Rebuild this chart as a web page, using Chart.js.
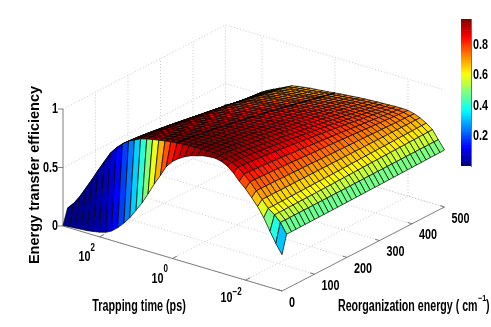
<!DOCTYPE html>
<html>
<head>
<meta charset="utf-8">
<script src="https://cdn.jsdelivr.net/npm/chart.js@4"></script>
<style>
  html, body { margin: 0; padding: 0; background: #fff; }
  canvas { position: absolute; left: 0; top: 0; }
</style>
</head>
<body>
<canvas id="surface" width="491" height="327"></canvas>
<canvas id="colorbar" width="491" height="327"></canvas>
<script>
// log10 of trapping time (ps), one value per column
const logTau = [3,2.83,2.67,2.5,2.33,2.17,2,1.83,1.67,1.5,1.33,1.17,1,.83,.67,.5,.33,.17,0,-.17,-.33,-.5,-.67,-.83,-1,-1.17,-1.33,-1.5,-1.67,-1.83,-2,-2.17,-2.33,-2.5,-2.67,-2.83,-3];
// reorganization energy (cm-1), one value per row
const lambdaValues = [0,14,29,43,57,71,86,100,114,129,143,157,171,186,200,214,229,243,257,271,286,300,314,329,343,357,371,386,400,414,429,443,457,471,486,500];
// energy transfer efficiency
const efficiency = [
[.005,.01,.013,.018,.022,.03,.04,.055,.08,.125,.18,.24,.32,.40,.49,.59,.68,.77,.83,.87,.90,.925,.94,.955,.962,.965,.955,.93,.885,.83,.78,.72,.66,.58,.48,.39,.31],
[.133,.19,.26,.35,.44,.53,.62,.71,.77,.82,.86,.885,.91,.925,.935,.945,.955,.962,.968,.972,.975,.977,.978,.978,.975,.968,.955,.94,.915,.87,.82,.76,.70,.64,.60,.55,.465],
[.136,.192,.262,.351,.44,.529,.618,.708,.767,.817,.856,.881,.906,.921,.931,.941,.951,.958,.964,.968,.971,.973,.974,.974,.971,.964,.952,.937,.912,.868,.819,.759,.70,.64,.60,.55,.465],
[.139,.195,.263,.351,.439,.528,.617,.705,.764,.813,.853,.878,.902,.917,.927,.937,.947,.954,.96,.964,.967,.969,.97,.97,.967,.961,.948,.934,.91,.866,.817,.759,.70,.641,.601,.55,.466],
[.142,.198,.265,.352,.439,.527,.615,.702,.76,.809,.848,.873,.897,.912,.922,.932,.941,.948,.954,.959,.962,.964,.965,.965,.962,.956,.944,.93,.906,.863,.816,.758,.70,.642,.602,.551,.466],
[.146,.201,.267,.353,.439,.526,.613,.699,.756,.805,.844,.869,.892,.907,.917,.926,.936,.943,.949,.953,.956,.959,.96,.96,.957,.951,.939,.925,.902,.861,.814,.757,.70,.642,.602,.551,.467],
[.151,.204,.27,.354,.438,.524,.61,.695,.751,.799,.838,.863,.886,.901,.91,.92,.929,.936,.942,.946,.95,.952,.953,.954,.951,.945,.934,.92,.898,.857,.812,.756,.70,.643,.603,.551,.467],
[.155,.208,.272,.355,.438,.523,.608,.691,.747,.794,.832,.857,.88,.894,.904,.913,.923,.929,.935,.94,.943,.945,.947,.947,.945,.939,.928,.915,.893,.854,.81,.755,.70,.644,.604,.551,.468],
[.16,.212,.275,.356,.437,.521,.605,.687,.742,.788,.826,.851,.874,.888,.897,.907,.916,.923,.929,.933,.936,.939,.94,.941,.939,.933,.922,.91,.889,.85,.807,.754,.70,.644,.604,.551,.468],
[.165,.216,.277,.357,.437,.52,.603,.683,.737,.783,.82,.845,.867,.881,.891,.9,.909,.916,.922,.926,.93,.932,.934,.934,.932,.927,.917,.905,.884,.847,.805,.753,.70,.645,.605,.552,.469],
[.169,.219,.28,.358,.436,.518,.6,.679,.732,.777,.814,.839,.861,.875,.884,.893,.902,.909,.915,.92,.923,.926,.927,.928,.926,.921,.911,.899,.88,.844,.803,.752,.70,.646,.606,.552,.469],
[.174,.223,.282,.359,.436,.517,.598,.675,.727,.772,.808,.833,.855,.868,.878,.887,.896,.902,.908,.913,.916,.919,.921,.922,.92,.915,.905,.894,.875,.84,.801,.751,.70,.647,.607,.552,.47],
[.18,.228,.285,.36,.435,.515,.595,.67,.721,.765,.801,.826,.847,.861,.87,.879,.887,.894,.9,.905,.908,.911,.913,.914,.912,.908,.899,.888,.87,.836,.798,.75,.70,.648,.608,.553,.47],
[.185,.232,.288,.361,.434,.513,.592,.665,.715,.758,.794,.819,.84,.853,.862,.871,.879,.886,.892,.897,.9,.903,.905,.906,.905,.901,.892,.882,.865,.832,.796,.749,.70,.648,.608,.553,.471],
[.191,.237,.291,.362,.434,.511,.589,.66,.71,.752,.787,.812,.832,.845,.854,.863,.871,.878,.884,.889,.892,.895,.897,.899,.897,.894,.885,.876,.859,.828,.793,.748,.70,.649,.609,.553,.472],
[.197,.241,.294,.364,.433,.51,.586,.656,.704,.745,.78,.805,.825,.838,.847,.855,.863,.87,.876,.881,.884,.887,.89,.891,.89,.886,.878,.869,.854,.824,.79,.746,.70,.65,.61,.553,.472],
[.202,.246,.297,.365,.433,.508,.583,.651,.698,.739,.773,.798,.817,.83,.839,.847,.855,.861,.868,.872,.876,.879,.882,.883,.882,.879,.872,.863,.848,.82,.788,.745,.70,.651,.611,.554,.473],
[.208,.25,.30,.366,.432,.506,.58,.646,.692,.732,.766,.791,.81,.822,.831,.839,.847,.853,.86,.864,.868,.871,.874,.876,.875,.872,.865,.857,.843,.816,.785,.744,.70,.652,.612,.554,.474],
[.213,.255,.303,.367,.431,.504,.577,.641,.686,.725,.759,.784,.802,.814,.823,.831,.839,.845,.851,.856,.86,.863,.866,.868,.867,.865,.858,.851,.838,.812,.783,.743,.70,.653,.613,.554,.474],
[.219,.259,.306,.368,.431,.502,.574,.636,.68,.719,.752,.777,.795,.807,.815,.823,.831,.837,.843,.848,.852,.856,.858,.86,.86,.858,.851,.844,.832,.808,.78,.742,.70,.654,.614,.555,.475],
[.225,.264,.309,.37,.43,.501,.571,.632,.674,.712,.745,.77,.787,.799,.808,.815,.823,.829,.835,.84,.844,.848,.851,.853,.852,.85,.845,.838,.827,.804,.777,.74,.70,.655,.615,.555,.476],
[.23,.268,.312,.371,.43,.499,.568,.627,.669,.706,.738,.763,.78,.791,.80,.807,.815,.821,.827,.832,.836,.84,.843,.845,.845,.843,.838,.832,.821,.80,.775,.739,.70,.656,.616,.555,.476],
[.236,.273,.315,.372,.429,.497,.565,.622,.663,.699,.731,.756,.772,.784,.792,.799,.806,.812,.818,.824,.828,.832,.835,.837,.837,.836,.831,.826,.816,.796,.772,.738,.70,.657,.617,.556,.477],
[.242,.278,.319,.373,.428,.495,.561,.616,.656,.691,.723,.748,.764,.775,.783,.79,.797,.803,.809,.815,.819,.823,.826,.828,.829,.828,.823,.818,.81,.791,.769,.737,.70,.658,.618,.556,.478],
[.249,.283,.322,.375,.428,.493,.558,.611,.649,.684,.714,.739,.755,.766,.774,.781,.788,.793,.80,.805,.809,.813,.817,.819,.82,.819,.815,.811,.803,.786,.766,.735,.70,.659,.619,.556,.479],
[.255,.288,.326,.376,.427,.491,.554,.605,.642,.676,.706,.731,.746,.757,.765,.771,.778,.784,.79,.796,.80,.804,.808,.81,.811,.811,.808,.804,.797,.782,.763,.734,.70,.66,.62,.557,.479],
[.262,.294,.329,.378,.426,.489,.551,.60,.635,.668,.698,.723,.737,.748,.756,.762,.769,.774,.781,.786,.791,.795,.799,.801,.802,.802,.80,.796,.791,.777,.76,.732,.70,.661,.621,.557,.48],
[.269,.299,.333,.379,.425,.486,.547,.594,.629,.66,.69,.715,.729,.739,.746,.753,.759,.765,.772,.777,.781,.786,.789,.792,.794,.794,.792,.789,.784,.772,.757,.731,.70,.662,.622,.557,.481],
[.275,.304,.336,.38,.425,.484,.544,.588,.622,.653,.681,.706,.72,.73,.737,.744,.75,.755,.762,.768,.772,.776,.78,.783,.785,.786,.784,.782,.778,.767,.754,.73,.70,.663,.623,.558,.482],
[.282,.309,.34,.382,.424,.482,.54,.583,.615,.645,.673,.698,.711,.721,.728,.734,.74,.746,.753,.758,.763,.767,.771,.774,.776,.777,.776,.775,.772,.763,.751,.728,.70,.664,.624,.558,.482],
[.288,.315,.343,.383,.423,.48,.537,.577,.608,.637,.665,.69,.702,.712,.719,.725,.731,.736,.743,.749,.753,.758,.762,.766,.767,.769,.768,.767,.766,.758,.748,.727,.70,.665,.625,.558,.483],
[.295,.32,.347,.385,.423,.478,.533,.572,.601,.63,.657,.682,.694,.703,.71,.716,.721,.727,.734,.739,.744,.749,.753,.757,.759,.76,.76,.76,.759,.753,.745,.725,.70,.666,.626,.559,.484],
[.301,.325,.35,.386,.422,.476,.53,.566,.594,.622,.648,.673,.685,.694,.701,.706,.712,.717,.724,.73,.735,.739,.744,.748,.75,.752,.752,.753,.753,.749,.742,.724,.70,.667,.627,.559,.485],
[.307,.33,.353,.387,.421,.474,.527,.561,.589,.615,.641,.666,.677,.686,.693,.699,.704,.709,.716,.722,.727,.731,.736,.74,.742,.745,.746,.747,.748,.744,.739,.723,.70,.668,.628,.559,.485],
[.313,.335,.357,.389,.421,.472,.523,.556,.582,.608,.633,.658,.669,.677,.684,.689,.694,.70,.706,.712,.717,.722,.727,.731,.734,.736,.738,.739,.741,.74,.736,.721,.70,.669,.629,.56,.486],
[.32,.34,.36,.39,.42,.47,.52,.55,.575,.60,.625,.65,.66,.668,.675,.68,.685,.69,.697,.703,.708,.713,.718,.722,.725,.728,.73,.732,.735,.735,.733,.72,.70,.67,.63,.56,.487]
];
const tauTicks = [2, 0, -2];
const tauTickLabels = ["10", "10", "10"];
const tauTickExponents = ["2", "0", "\u22122"];
const lambdaTicks = [0, 100, 200, 300, 400, 500];
const zTicks = [0, 0.5, 1];
const zTickLabels = ["0", "0.5", "1"];
const colorbarTicks = [0.2, 0.4, 0.6, 0.8];
const colorMax = 0.97;

// fixed MATLAB style view of the box
function toScreen(tau, lam, z) {
  const u = 3 - tau;
  return {
    x: 63 + u * 36.5 + lam * 0.325,
    y: 226 + u * 10.83 - lam * 0.168 - z * 117,
  };
}

function jet(v) {
  const t = Math.max(0, Math.min(1, v / colorMax));
  const c = (x) => Math.round(255 * Math.max(0, Math.min(1, 1.5 - Math.abs(4 * t - x))));
  return `rgb(${c(3)},${c(2)},${c(1)})`;
}

const sans = '"Liberation Sans", sans-serif';
const gridStyle = { borderColor: "#bdbdbd", borderWidth: 0.8, borderDash: [1, 2], fill: false };
const axisStyle = { borderColor: "#707070", borderWidth: 0.9, fill: false };

function segment(points, style) {
  return { data: points, showLine: true, pointRadius: 0, ...style };
}

// the reference text is squeezed sideways, no narrow font is installed
function squeezed(ctx, text, x, y, font, align, sx) {
  ctx.save();
  ctx.font = font;
  ctx.textAlign = align;
  ctx.translate(x, y);
  ctx.scale(sx, 1);
  ctx.fillText(text, 0, 0);
  ctx.restore();
}

const datasets = [];

// thick line along tau = 1 ps
const oneIdx = logTau.indexOf(0);
datasets.push(segment(
  efficiency.slice(1).map((row, r) => toScreen(0, lambdaValues[r + 1], row[oneIdx])),
  { borderColor: "#000", borderWidth: 1.4, fill: false }
));

// first dataset ends on top, so go from the front corner to the back
for (let r = 0; r < lambdaValues.length - 1; r++) {
  for (let i = logTau.length - 2; i >= 0; i--) {
    const z = efficiency;
    datasets.push(segment([
      toScreen(logTau[i], lambdaValues[r], z[r][i]),
      toScreen(logTau[i + 1], lambdaValues[r], z[r][i + 1]),
      toScreen(logTau[i + 1], lambdaValues[r + 1], z[r + 1][i + 1]),
      toScreen(logTau[i], lambdaValues[r + 1], z[r + 1][i]),
      toScreen(logTau[i], lambdaValues[r], z[r][i]),
    ], {
      borderColor: "#000",
      borderWidth: 0.7,
      backgroundColor: jet(z[r][i + 1]),
      fill: "shape",
    }));
  }
}

// axes
const tauFirst = logTau[0];
const tauLast = logTau[logTau.length - 1];
const lamLast = lambdaValues[lambdaValues.length - 1];
datasets.push(segment([toScreen(tauFirst, 0, 0), toScreen(tauLast, 0, 0), toScreen(tauLast, lamLast, 0)], axisStyle));
datasets.push(segment([toScreen(tauFirst, 0, 0), toScreen(tauFirst, 0, 1)], axisStyle));
tauTicks.forEach((t) => datasets.push(segment([toScreen(t, 0, 0), toScreen(t, 14, 0)], axisStyle)));
lambdaTicks.forEach((l) => datasets.push(segment([toScreen(tauLast, l, 0), toScreen(tauLast + 0.12, l, 0)], axisStyle)));
zTicks.forEach((z) => {
  const p = toScreen(tauFirst, 0, z);
  datasets.push(segment([p, { x: p.x - 5, y: p.y }], axisStyle));
});

// dotted grid on the floor and the two back walls
tauTicks.forEach((t) => {
  datasets.push(segment([toScreen(t, 0, 0), toScreen(t, lamLast, 0), toScreen(t, lamLast, 1)], gridStyle));
});
lambdaTicks.forEach((l) => {
  datasets.push(segment([toScreen(tauLast, l, 0), toScreen(tauFirst, l, 0), toScreen(tauFirst, l, l === 0 ? 0 : 1)], gridStyle));
});
zTicks.forEach((z) => {
  datasets.push(segment([toScreen(tauFirst, 0, z), toScreen(tauFirst, lamLast, z), toScreen(tauLast, lamLast, z)], gridStyle));
});

const tickFont = `bold 15px ${sans}`;
const tickSqueeze = 0.72;
const titleFont = `bold 16px ${sans}`;

const labelsPlugin = {
  id: "labels3d",
  afterDraw(chart) {
    const ctx = chart.ctx;
    ctx.save();
    ctx.fillStyle = "#000";
    ctx.textBaseline = "middle";

    zTicks.forEach((z, k) => {
      const p = toScreen(tauFirst, 0, z);
      squeezed(ctx, zTickLabels[k], p.x - 5, p.y, tickFont, "right", tickSqueeze);
    });

    lambdaTicks.forEach((l) => {
      const p = toScreen(tauLast, l, 0);
      squeezed(ctx, String(l), p.x + 7, p.y + 11.5, tickFont, "left", tickSqueeze);
    });

    tauTicks.forEach((t, k) => {
      const p = toScreen(t, 0, 0);
      const shift = t < 0 ? 13 : 9;
      squeezed(ctx, tauTickLabels[k], p.x - shift, p.y + (t < 0 ? 18 : 20), tickFont, "right", tickSqueeze);
      squeezed(ctx, tauTickExponents[k], p.x - shift, p.y + (t < 0 ? 12 : 11), `bold 10px ${sans}`, "left", 0.8);
    });

    squeezed(ctx, "Trapping time (ps)", 139, 307, titleFont, "center", 0.674);
    ctx.font = titleFont;
    const w = ctx.measureText("Reorganization energy ( cm").width * 0.665;
    squeezed(ctx, "Reorganization energy ( cm", 338, 307, titleFont, "left", 0.665);
    squeezed(ctx, "\u22121", 338 + w + 0.5, 299, `bold 9px ${sans}`, "left", 0.8);
    squeezed(ctx, ")", 338 + w + 8.5, 307, titleFont, "left", 0.665);

    ctx.translate(35, 175);
    ctx.rotate(-Math.PI / 2);
    ctx.textAlign = "center";
    ctx.font = `bold 14.5px ${sans}`;
    ctx.fillText("Energy transfer efficiency", 0, 0);
    ctx.restore();
  },
};

new Chart(document.getElementById("surface"), {
  type: "scatter",
  data: { datasets },
  options: {
    responsive: false,
    animation: false,
    events: [],
    layout: { padding: 0 },
    plugins: { legend: { display: false }, tooltip: { enabled: false } },
    scales: {
      x: { type: "linear", min: 0, max: 491, display: false },
      y: { type: "linear", min: 0, max: 327, reverse: true, display: false },
    },
  },
  plugins: [labelsPlugin],
});

// colorbar: 64 stacked steps of the jet map
const barSteps = 64;
const barDatasets = [];
for (let s = 0; s < barSteps; s++) {
  barDatasets.push({
    data: [colorMax / barSteps],
    backgroundColor: jet((s + 0.5) * colorMax / barSteps),
    barPercentage: 1,
    categoryPercentage: 1,
    borderWidth: 0,
  });
}

const barLabels = {
  id: "barLabels",
  afterDraw(chart) {
    const ctx = chart.ctx;
    const axis = chart.scales.y;
    ctx.save();
    ctx.fillStyle = "#000";
    ctx.textBaseline = "middle";
    colorbarTicks.forEach((v) => {
      squeezed(ctx, v.toFixed(1), axis.left + 2, axis.getPixelForValue(v), tickFont, "left", tickSqueeze);
    });
    ctx.restore();
  },
};

new Chart(document.getElementById("colorbar"), {
  type: "bar",
  data: { labels: [""], datasets: barDatasets },
  options: {
    responsive: false,
    animation: false,
    events: [],
    layout: { padding: { left: 461, right: 0, top: 19, bottom: 161 } },
    plugins: { legend: { display: false }, tooltip: { enabled: false } },
    scales: {
      x: { stacked: true, display: false },
      y: {
        stacked: true,
        position: "right",
        min: 0,
        max: colorMax,
        grid: { display: false, drawTicks: false },
        border: { color: "#707070" },
        afterBuildTicks: (axis) => { axis.ticks = colorbarTicks.map((value) => ({ value })); },
        afterFit: (axis) => { axis.width = 20; },
        ticks: { display: false },
      },
    },
  },
  plugins: [barLabels],
});
</script>
</body>
</html>
